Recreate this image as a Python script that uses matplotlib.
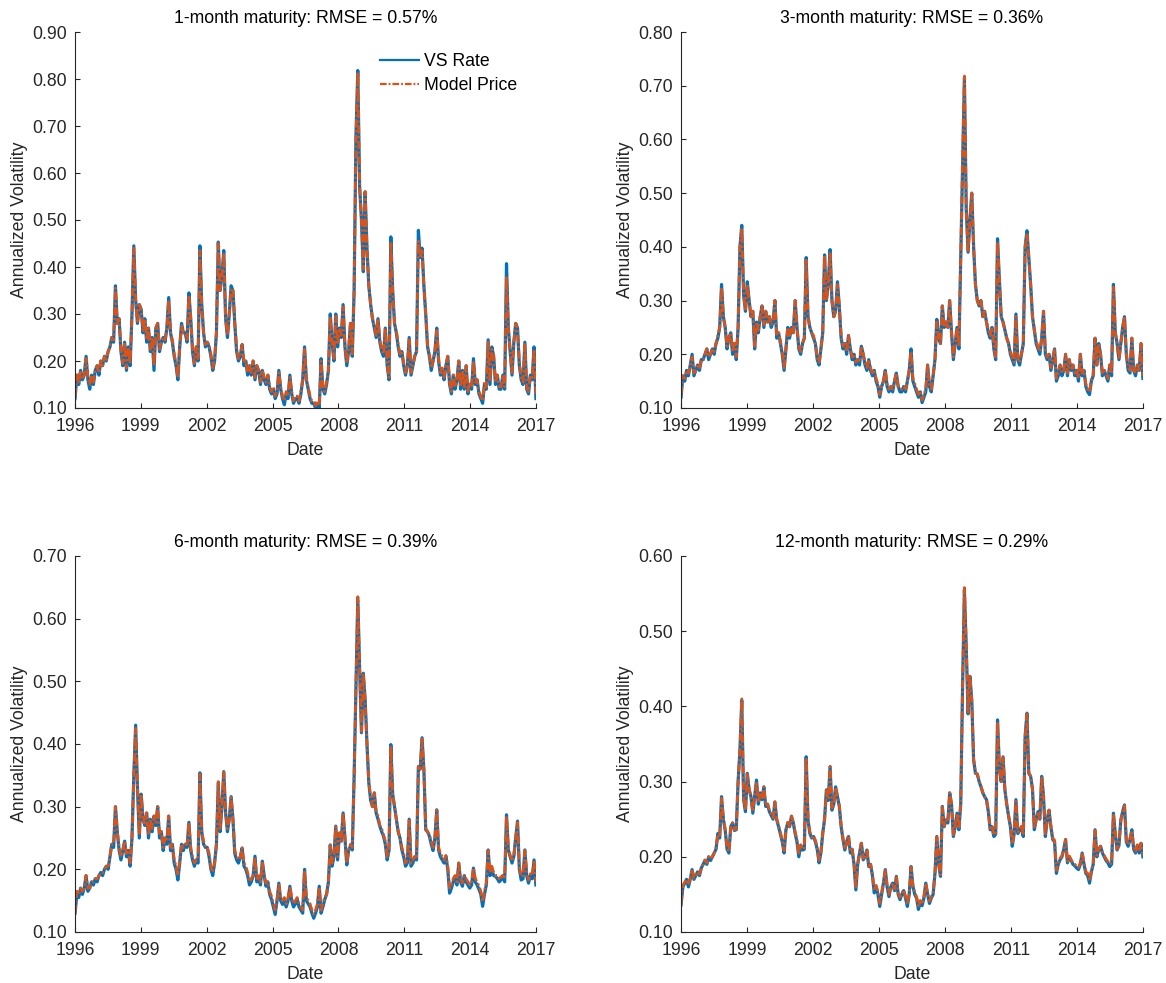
import numpy as np
import pandas as pd
import matplotlib
matplotlib.use("Agg")
import matplotlib.pyplot as plt

plt.rcParams['font.family'] = ['Liberation Sans', 'DejaVu Sans']

# monthly observations, Jan 1996 .. Dec 2016 (one row per year)
dates = pd.date_range('1996-01-02', '2016-12-30', periods=252)

vs_1m = [
    0.12, 0.17, 0.15, 0.18, 0.16, 0.17, 0.21, 0.16, 0.14, 0.17, 0.15, 0.18,
    0.19, 0.17, 0.20, 0.19, 0.21, 0.20, 0.22, 0.23, 0.25, 0.24, 0.36, 0.28,
    0.29, 0.22, 0.19, 0.24, 0.18, 0.23, 0.19, 0.30, 0.445, 0.33, 0.28, 0.32,
    0.31, 0.26, 0.29, 0.24, 0.27, 0.22, 0.25, 0.18, 0.27, 0.28, 0.22, 0.24,
    0.25, 0.24, 0.27, 0.335, 0.26, 0.24, 0.21, 0.19, 0.16, 0.23, 0.28, 0.26,
    0.26, 0.24, 0.345, 0.29, 0.22, 0.19, 0.23, 0.20, 0.445, 0.32, 0.26, 0.23,
    0.24, 0.23, 0.21, 0.18, 0.20, 0.26, 0.453, 0.35, 0.38, 0.435, 0.29, 0.25,
    0.30, 0.36, 0.35, 0.28, 0.22, 0.20, 0.21, 0.235, 0.19, 0.20, 0.17, 0.19,
    0.17, 0.20, 0.16, 0.19, 0.18, 0.15, 0.18, 0.16, 0.15, 0.17, 0.14, 0.13,
    0.14, 0.12, 0.13, 0.18, 0.14, 0.12, 0.107, 0.13, 0.12, 0.17, 0.13, 0.11,
    0.12, 0.12, 0.11, 0.13, 0.16, 0.23, 0.16, 0.14, 0.12, 0.11, 0.11, 0.10,
    0.11, 0.10, 0.205, 0.14, 0.13, 0.15, 0.18, 0.30, 0.24, 0.20, 0.30, 0.23,
    0.27, 0.25, 0.32, 0.23, 0.19, 0.22, 0.28, 0.21, 0.35, 0.68, 0.818, 0.57,
    0.50, 0.39, 0.56, 0.44, 0.36, 0.32, 0.29, 0.27, 0.25, 0.29, 0.24, 0.22,
    0.21, 0.27, 0.19, 0.16, 0.464, 0.35, 0.28, 0.26, 0.23, 0.21, 0.22, 0.19,
    0.17, 0.19, 0.25, 0.17, 0.19, 0.21, 0.22, 0.478, 0.42, 0.44, 0.36, 0.30,
    0.23, 0.21, 0.18, 0.20, 0.22, 0.27, 0.20, 0.17, 0.18, 0.16, 0.19, 0.21,
    0.15, 0.13, 0.17, 0.14, 0.16, 0.20, 0.14, 0.18, 0.14, 0.19, 0.13, 0.15,
    0.14, 0.205, 0.15, 0.16, 0.13, 0.12, 0.11, 0.15, 0.14, 0.245, 0.15, 0.23,
    0.21, 0.15, 0.17, 0.14, 0.14, 0.17, 0.14, 0.407, 0.27, 0.22, 0.17, 0.24,
    0.28, 0.27, 0.19, 0.16, 0.15, 0.24, 0.14, 0.13, 0.17, 0.16, 0.23, 0.12,
]
model_1m = [
    0.125, 0.17, 0.155, 0.18, 0.165, 0.17, 0.205, 0.165, 0.15, 0.17, 0.155, 0.18,
    0.19, 0.175, 0.20, 0.19, 0.21, 0.20, 0.22, 0.23, 0.25, 0.245, 0.355, 0.28,
    0.29, 0.225, 0.195, 0.24, 0.185, 0.23, 0.195, 0.30, 0.44, 0.33, 0.28, 0.32,
    0.31, 0.265, 0.29, 0.245, 0.27, 0.225, 0.25, 0.19, 0.27, 0.28, 0.225, 0.24,
    0.25, 0.245, 0.27, 0.33, 0.26, 0.245, 0.215, 0.195, 0.165, 0.23, 0.275, 0.26,
    0.26, 0.245, 0.34, 0.29, 0.225, 0.195, 0.23, 0.205, 0.435, 0.32, 0.26, 0.235,
    0.24, 0.235, 0.215, 0.185, 0.205, 0.26, 0.45, 0.35, 0.38, 0.43, 0.29, 0.255,
    0.30, 0.355, 0.35, 0.28, 0.225, 0.205, 0.215, 0.235, 0.195, 0.20, 0.175, 0.19,
    0.175, 0.20, 0.165, 0.19, 0.18, 0.155, 0.18, 0.165, 0.155, 0.17, 0.145, 0.135,
    0.145, 0.125, 0.135, 0.175, 0.145, 0.125, 0.115, 0.135, 0.125, 0.165, 0.135, 0.115,
    0.125, 0.125, 0.115, 0.135, 0.16, 0.225, 0.16, 0.145, 0.125, 0.115, 0.115, 0.105,
    0.115, 0.105, 0.20, 0.145, 0.135, 0.155, 0.18, 0.295, 0.24, 0.205, 0.295, 0.235,
    0.27, 0.255, 0.315, 0.235, 0.195, 0.225, 0.28, 0.215, 0.35, 0.67, 0.815, 0.575,
    0.50, 0.395, 0.56, 0.44, 0.36, 0.32, 0.29, 0.275, 0.255, 0.29, 0.245, 0.225,
    0.215, 0.27, 0.195, 0.165, 0.45, 0.35, 0.28, 0.265, 0.235, 0.215, 0.22, 0.195,
    0.175, 0.19, 0.245, 0.175, 0.19, 0.21, 0.22, 0.455, 0.42, 0.435, 0.36, 0.30,
    0.235, 0.215, 0.185, 0.20, 0.22, 0.265, 0.205, 0.175, 0.185, 0.165, 0.19, 0.21,
    0.155, 0.135, 0.17, 0.145, 0.16, 0.20, 0.145, 0.18, 0.145, 0.19, 0.135, 0.155,
    0.145, 0.20, 0.155, 0.16, 0.135, 0.125, 0.115, 0.155, 0.145, 0.24, 0.155, 0.225,
    0.21, 0.155, 0.17, 0.145, 0.145, 0.17, 0.145, 0.38, 0.27, 0.22, 0.175, 0.24,
    0.28, 0.27, 0.195, 0.165, 0.155, 0.235, 0.145, 0.135, 0.17, 0.165, 0.225, 0.13,
]

vs_3m = [
    0.12, 0.16, 0.15, 0.17, 0.16, 0.18, 0.20, 0.16, 0.17, 0.18, 0.17, 0.19,
    0.19, 0.20, 0.21, 0.19, 0.20, 0.21, 0.20, 0.22, 0.23, 0.25, 0.33, 0.27,
    0.25, 0.21, 0.23, 0.24, 0.20, 0.22, 0.19, 0.25, 0.40, 0.44, 0.31, 0.28,
    0.335, 0.30, 0.27, 0.28, 0.21, 0.26, 0.24, 0.27, 0.29, 0.25, 0.28, 0.26,
    0.27, 0.25, 0.26, 0.30, 0.23, 0.24, 0.22, 0.20, 0.17, 0.21, 0.25, 0.23,
    0.25, 0.24, 0.30, 0.25, 0.21, 0.20, 0.22, 0.23, 0.38, 0.27, 0.25, 0.24,
    0.23, 0.22, 0.19, 0.18, 0.21, 0.24, 0.385, 0.30, 0.33, 0.395, 0.30, 0.27,
    0.28, 0.335, 0.29, 0.23, 0.21, 0.22, 0.20, 0.235, 0.21, 0.19, 0.20, 0.18,
    0.19, 0.18, 0.215, 0.20, 0.18, 0.17, 0.19, 0.17, 0.16, 0.17, 0.15, 0.14,
    0.12, 0.14, 0.15, 0.17, 0.14, 0.13, 0.14, 0.13, 0.15, 0.165, 0.14, 0.13,
    0.13, 0.14, 0.13, 0.15, 0.17, 0.21, 0.15, 0.14, 0.13, 0.12, 0.13, 0.11,
    0.12, 0.13, 0.18, 0.14, 0.13, 0.16, 0.19, 0.265, 0.23, 0.22, 0.29, 0.25,
    0.26, 0.25, 0.30, 0.24, 0.19, 0.22, 0.25, 0.21, 0.38, 0.56, 0.715, 0.47,
    0.39, 0.45, 0.50, 0.40, 0.33, 0.30, 0.29, 0.30, 0.27, 0.28, 0.26, 0.24,
    0.23, 0.25, 0.21, 0.19, 0.415, 0.34, 0.27, 0.26, 0.245, 0.23, 0.22, 0.20,
    0.19, 0.18, 0.275, 0.19, 0.18, 0.20, 0.22, 0.40, 0.43, 0.38, 0.33, 0.27,
    0.245, 0.22, 0.21, 0.20, 0.23, 0.28, 0.20, 0.19, 0.20, 0.17, 0.19, 0.21,
    0.15, 0.16, 0.18, 0.16, 0.17, 0.20, 0.16, 0.19, 0.17, 0.18, 0.16, 0.17,
    0.15, 0.20, 0.16, 0.17, 0.14, 0.13, 0.125, 0.15, 0.16, 0.23, 0.18, 0.22,
    0.20, 0.16, 0.17, 0.16, 0.15, 0.18, 0.16, 0.33, 0.24, 0.22, 0.19, 0.22,
    0.25, 0.27, 0.20, 0.17, 0.165, 0.23, 0.17, 0.16, 0.18, 0.17, 0.22, 0.155,
]
model_3m = [
    0.125, 0.16, 0.155, 0.17, 0.165, 0.18, 0.195, 0.165, 0.17, 0.18, 0.175, 0.19,
    0.19, 0.20, 0.21, 0.195, 0.20, 0.21, 0.205, 0.22, 0.235, 0.25, 0.325, 0.27,
    0.25, 0.215, 0.23, 0.24, 0.205, 0.22, 0.195, 0.25, 0.40, 0.435, 0.31, 0.28,
    0.33, 0.30, 0.27, 0.28, 0.215, 0.26, 0.245, 0.27, 0.29, 0.255, 0.28, 0.26,
    0.27, 0.255, 0.26, 0.30, 0.235, 0.24, 0.225, 0.205, 0.175, 0.21, 0.25, 0.235,
    0.25, 0.24, 0.30, 0.25, 0.215, 0.205, 0.22, 0.23, 0.375, 0.27, 0.25, 0.24,
    0.235, 0.22, 0.195, 0.185, 0.21, 0.24, 0.385, 0.30, 0.33, 0.39, 0.30, 0.27,
    0.28, 0.33, 0.29, 0.235, 0.215, 0.22, 0.205, 0.235, 0.21, 0.195, 0.20, 0.185,
    0.19, 0.185, 0.215, 0.20, 0.185, 0.175, 0.19, 0.175, 0.165, 0.17, 0.155, 0.145,
    0.125, 0.14, 0.15, 0.17, 0.145, 0.135, 0.14, 0.135, 0.15, 0.165, 0.14, 0.135,
    0.135, 0.14, 0.135, 0.15, 0.17, 0.205, 0.155, 0.145, 0.135, 0.125, 0.13, 0.115,
    0.125, 0.135, 0.18, 0.145, 0.135, 0.16, 0.19, 0.26, 0.23, 0.22, 0.29, 0.25,
    0.26, 0.25, 0.30, 0.24, 0.195, 0.22, 0.25, 0.215, 0.38, 0.56, 0.718, 0.47,
    0.39, 0.45, 0.50, 0.40, 0.33, 0.30, 0.29, 0.30, 0.27, 0.28, 0.26, 0.245,
    0.235, 0.25, 0.215, 0.195, 0.41, 0.34, 0.27, 0.26, 0.245, 0.23, 0.22, 0.205,
    0.195, 0.185, 0.27, 0.195, 0.185, 0.20, 0.22, 0.40, 0.425, 0.38, 0.33, 0.27,
    0.245, 0.225, 0.215, 0.205, 0.23, 0.28, 0.205, 0.195, 0.20, 0.175, 0.19, 0.21,
    0.155, 0.165, 0.18, 0.165, 0.17, 0.20, 0.165, 0.19, 0.17, 0.18, 0.165, 0.17,
    0.155, 0.20, 0.165, 0.17, 0.145, 0.135, 0.13, 0.155, 0.16, 0.23, 0.18, 0.22,
    0.20, 0.165, 0.17, 0.165, 0.155, 0.18, 0.165, 0.325, 0.24, 0.22, 0.19, 0.22,
    0.25, 0.27, 0.20, 0.175, 0.17, 0.23, 0.17, 0.165, 0.18, 0.17, 0.22, 0.16,
]

vs_6m = [
    0.13, 0.16, 0.155, 0.17, 0.16, 0.17, 0.19, 0.165, 0.17, 0.18, 0.175, 0.185,
    0.18, 0.19, 0.195, 0.19, 0.20, 0.205, 0.20, 0.22, 0.24, 0.235, 0.30, 0.26,
    0.23, 0.215, 0.23, 0.245, 0.22, 0.23, 0.205, 0.25, 0.35, 0.43, 0.33, 0.25,
    0.32, 0.28, 0.27, 0.29, 0.25, 0.28, 0.26, 0.285, 0.27, 0.30, 0.25, 0.26,
    0.23, 0.25, 0.24, 0.285, 0.23, 0.24, 0.21, 0.20, 0.183, 0.21, 0.24, 0.23,
    0.24, 0.235, 0.275, 0.23, 0.215, 0.205, 0.215, 0.21, 0.354, 0.26, 0.24, 0.235,
    0.235, 0.22, 0.20, 0.19, 0.21, 0.24, 0.338, 0.26, 0.30, 0.356, 0.29, 0.26,
    0.28, 0.316, 0.28, 0.225, 0.215, 0.21, 0.22, 0.234, 0.205, 0.20, 0.19, 0.175,
    0.18, 0.19, 0.221, 0.18, 0.185, 0.175, 0.213, 0.19, 0.173, 0.18, 0.16, 0.152,
    0.14, 0.128, 0.15, 0.178, 0.15, 0.144, 0.15, 0.14, 0.15, 0.173, 0.15, 0.14,
    0.145, 0.152, 0.14, 0.135, 0.13, 0.20, 0.15, 0.145, 0.14, 0.13, 0.122, 0.13,
    0.14, 0.173, 0.13, 0.14, 0.152, 0.16, 0.18, 0.239, 0.205, 0.22, 0.269, 0.215,
    0.258, 0.245, 0.29, 0.25, 0.207, 0.23, 0.237, 0.231, 0.348, 0.49, 0.633, 0.52,
    0.418, 0.513, 0.471, 0.40, 0.338, 0.31, 0.30, 0.322, 0.29, 0.28, 0.269, 0.26,
    0.253, 0.24, 0.215, 0.23, 0.399, 0.32, 0.30, 0.28, 0.26, 0.25, 0.231, 0.22,
    0.205, 0.21, 0.28, 0.205, 0.21, 0.22, 0.215, 0.364, 0.36, 0.41, 0.359, 0.263,
    0.26, 0.253, 0.24, 0.23, 0.25, 0.295, 0.231, 0.22, 0.215, 0.21, 0.221, 0.20,
    0.162, 0.17, 0.18, 0.189, 0.175, 0.21, 0.18, 0.173, 0.19, 0.18, 0.175, 0.17,
    0.175, 0.202, 0.18, 0.175, 0.168, 0.16, 0.141, 0.16, 0.175, 0.231, 0.19, 0.20,
    0.19, 0.189, 0.185, 0.18, 0.183, 0.19, 0.18, 0.287, 0.231, 0.22, 0.21, 0.221,
    0.25, 0.277, 0.20, 0.183, 0.185, 0.231, 0.19, 0.178, 0.19, 0.185, 0.215, 0.175,
]
model_6m = [
    0.13, 0.165, 0.16, 0.17, 0.165, 0.17, 0.19, 0.17, 0.17, 0.18, 0.18, 0.185,
    0.185, 0.19, 0.195, 0.195, 0.20, 0.205, 0.205, 0.22, 0.24, 0.24, 0.30, 0.26,
    0.235, 0.22, 0.23, 0.245, 0.225, 0.23, 0.21, 0.25, 0.35, 0.425, 0.33, 0.255,
    0.32, 0.285, 0.27, 0.29, 0.255, 0.28, 0.265, 0.285, 0.275, 0.30, 0.255, 0.26,
    0.235, 0.25, 0.245, 0.285, 0.235, 0.24, 0.215, 0.205, 0.19, 0.215, 0.24, 0.235,
    0.24, 0.24, 0.275, 0.235, 0.22, 0.21, 0.215, 0.215, 0.352, 0.26, 0.245, 0.235,
    0.235, 0.225, 0.205, 0.195, 0.21, 0.24, 0.34, 0.265, 0.30, 0.355, 0.29, 0.265,
    0.28, 0.315, 0.28, 0.23, 0.22, 0.215, 0.22, 0.234, 0.21, 0.205, 0.195, 0.18,
    0.185, 0.19, 0.22, 0.185, 0.19, 0.18, 0.212, 0.19, 0.178, 0.18, 0.165, 0.157,
    0.145, 0.135, 0.15, 0.175, 0.155, 0.15, 0.155, 0.145, 0.155, 0.172, 0.155, 0.145,
    0.15, 0.155, 0.145, 0.14, 0.135, 0.198, 0.155, 0.15, 0.145, 0.135, 0.128, 0.135,
    0.145, 0.172, 0.135, 0.145, 0.155, 0.16, 0.18, 0.238, 0.21, 0.22, 0.268, 0.22,
    0.258, 0.245, 0.29, 0.25, 0.21, 0.23, 0.24, 0.235, 0.348, 0.49, 0.635, 0.52,
    0.42, 0.512, 0.47, 0.40, 0.34, 0.315, 0.30, 0.322, 0.29, 0.285, 0.27, 0.265,
    0.255, 0.245, 0.22, 0.23, 0.397, 0.32, 0.30, 0.28, 0.26, 0.25, 0.235, 0.225,
    0.21, 0.215, 0.278, 0.21, 0.215, 0.22, 0.22, 0.364, 0.36, 0.408, 0.358, 0.265,
    0.26, 0.255, 0.245, 0.235, 0.25, 0.294, 0.235, 0.225, 0.22, 0.215, 0.222, 0.205,
    0.17, 0.175, 0.185, 0.19, 0.18, 0.21, 0.185, 0.178, 0.19, 0.185, 0.18, 0.175,
    0.18, 0.202, 0.185, 0.18, 0.173, 0.165, 0.148, 0.165, 0.178, 0.23, 0.195, 0.205,
    0.195, 0.19, 0.19, 0.185, 0.188, 0.19, 0.185, 0.285, 0.233, 0.222, 0.213, 0.222,
    0.25, 0.275, 0.205, 0.188, 0.19, 0.23, 0.195, 0.183, 0.193, 0.19, 0.215, 0.18,
]

vs_12m = [
    0.136, 0.16, 0.165, 0.17, 0.16, 0.17, 0.183, 0.17, 0.175, 0.18, 0.175, 0.185,
    0.19, 0.195, 0.19, 0.20, 0.195, 0.20, 0.205, 0.21, 0.231, 0.225, 0.28, 0.25,
    0.235, 0.21, 0.205, 0.24, 0.245, 0.235, 0.236, 0.30, 0.342, 0.408, 0.276, 0.26,
    0.311, 0.289, 0.28, 0.258, 0.28, 0.302, 0.27, 0.285, 0.276, 0.293, 0.267, 0.27,
    0.26, 0.255, 0.25, 0.273, 0.249, 0.24, 0.23, 0.22, 0.205, 0.236, 0.245, 0.24,
    0.254, 0.245, 0.231, 0.22, 0.20, 0.215, 0.209, 0.21, 0.333, 0.249, 0.231, 0.225,
    0.227, 0.22, 0.21, 0.192, 0.205, 0.231, 0.25, 0.289, 0.275, 0.32, 0.262, 0.27,
    0.293, 0.28, 0.267, 0.24, 0.223, 0.209, 0.22, 0.227, 0.205, 0.21, 0.19, 0.156,
    0.19, 0.205, 0.218, 0.196, 0.20, 0.209, 0.187, 0.19, 0.175, 0.152, 0.16, 0.15,
    0.134, 0.15, 0.165, 0.183, 0.16, 0.147, 0.16, 0.165, 0.155, 0.174, 0.15, 0.143,
    0.15, 0.155, 0.145, 0.134, 0.15, 0.187, 0.161, 0.15, 0.145, 0.13, 0.14, 0.135,
    0.145, 0.165, 0.15, 0.138, 0.145, 0.15, 0.178, 0.227, 0.19, 0.174, 0.267, 0.24,
    0.249, 0.245, 0.285, 0.27, 0.227, 0.24, 0.258, 0.236, 0.27, 0.426, 0.555, 0.479,
    0.39, 0.44, 0.408, 0.329, 0.311, 0.31, 0.30, 0.293, 0.285, 0.28, 0.276, 0.26,
    0.236, 0.24, 0.227, 0.23, 0.382, 0.32, 0.30, 0.333, 0.289, 0.27, 0.254, 0.24,
    0.214, 0.23, 0.276, 0.231, 0.235, 0.24, 0.227, 0.36, 0.391, 0.311, 0.307, 0.29,
    0.236, 0.249, 0.26, 0.25, 0.307, 0.28, 0.227, 0.25, 0.262, 0.24, 0.223, 0.22,
    0.178, 0.19, 0.196, 0.20, 0.21, 0.223, 0.192, 0.20, 0.195, 0.19, 0.188, 0.185,
    0.183, 0.19, 0.205, 0.19, 0.178, 0.175, 0.165, 0.18, 0.19, 0.236, 0.20, 0.21,
    0.214, 0.205, 0.20, 0.195, 0.192, 0.187, 0.19, 0.258, 0.23, 0.209, 0.215, 0.249,
    0.26, 0.269, 0.22, 0.214, 0.223, 0.236, 0.21, 0.205, 0.215, 0.205, 0.218, 0.20,
]
model_12m = [
    0.138, 0.162, 0.166, 0.17, 0.163, 0.172, 0.183, 0.172, 0.176, 0.18, 0.177, 0.185,
    0.19, 0.196, 0.192, 0.20, 0.197, 0.20, 0.205, 0.212, 0.23, 0.226, 0.278, 0.25,
    0.236, 0.212, 0.207, 0.24, 0.245, 0.236, 0.237, 0.30, 0.342, 0.41, 0.278, 0.262,
    0.31, 0.29, 0.28, 0.26, 0.28, 0.30, 0.272, 0.285, 0.277, 0.293, 0.268, 0.27,
    0.262, 0.256, 0.252, 0.273, 0.25, 0.242, 0.232, 0.222, 0.208, 0.236, 0.246, 0.24,
    0.254, 0.246, 0.233, 0.222, 0.203, 0.216, 0.21, 0.212, 0.332, 0.25, 0.233, 0.226,
    0.228, 0.222, 0.212, 0.195, 0.206, 0.232, 0.25, 0.288, 0.276, 0.32, 0.263, 0.27,
    0.292, 0.28, 0.268, 0.242, 0.225, 0.21, 0.22, 0.228, 0.207, 0.21, 0.192, 0.16,
    0.19, 0.205, 0.218, 0.198, 0.20, 0.21, 0.188, 0.19, 0.177, 0.156, 0.162, 0.153,
    0.138, 0.152, 0.166, 0.182, 0.162, 0.15, 0.161, 0.165, 0.157, 0.173, 0.152, 0.146,
    0.152, 0.156, 0.147, 0.137, 0.151, 0.186, 0.162, 0.152, 0.147, 0.133, 0.142, 0.137,
    0.147, 0.165, 0.151, 0.141, 0.147, 0.152, 0.178, 0.226, 0.192, 0.176, 0.266, 0.241,
    0.249, 0.246, 0.285, 0.27, 0.229, 0.241, 0.258, 0.237, 0.272, 0.426, 0.558, 0.48,
    0.392, 0.44, 0.408, 0.33, 0.312, 0.31, 0.30, 0.294, 0.286, 0.28, 0.276, 0.261,
    0.238, 0.241, 0.229, 0.231, 0.38, 0.32, 0.30, 0.332, 0.29, 0.27, 0.255, 0.242,
    0.217, 0.231, 0.274, 0.233, 0.236, 0.24, 0.229, 0.36, 0.39, 0.312, 0.307, 0.29,
    0.238, 0.25, 0.26, 0.251, 0.305, 0.28, 0.229, 0.25, 0.262, 0.241, 0.225, 0.222,
    0.182, 0.192, 0.198, 0.201, 0.21, 0.223, 0.194, 0.201, 0.196, 0.192, 0.19, 0.188,
    0.186, 0.192, 0.205, 0.192, 0.18, 0.178, 0.168, 0.182, 0.19, 0.235, 0.202, 0.21,
    0.214, 0.206, 0.202, 0.197, 0.194, 0.19, 0.192, 0.257, 0.23, 0.21, 0.216, 0.248,
    0.26, 0.268, 0.222, 0.216, 0.224, 0.235, 0.212, 0.207, 0.216, 0.207, 0.218, 0.202,
]

titles = [
    '1-month maturity: RMSE = 0.57%',
    '3-month maturity: RMSE = 0.36%',
    '6-month maturity: RMSE = 0.39%',
    '12-month maturity: RMSE = 0.29%',
]
vs_series = [vs_1m, vs_3m, vs_6m, vs_12m]
model_series = [model_1m, model_3m, model_6m, model_12m]
y_tops = [0.90, 0.80, 0.70, 0.60]
year_ticks = list(range(1996, 2018, 3))

W, H = 1166, 983
# axes boxes in pixels: left, top, right, bottom
boxes = [(75, 32, 536, 408), (681, 32, 1143, 408),
         (75, 556, 536, 932), (681, 556, 1143, 932)]

BLUE = '#0072BD'
ORANGE = '#D95319'
AXC = '#262626'
FS = 12.7

fig = plt.figure(figsize=(W / 100, H / 100), dpi=100)

for i in range(4):
    l, t, r, b = boxes[i]
    ax = fig.add_axes([l / W, 1 - b / H, (r - l) / W, (b - t) / H])
    ax.plot(dates, vs_series[i], color=BLUE, lw=2.3, label='VS Rate')
    ax.plot(dates, model_series[i], color=ORANGE, lw=2.0,
            ls=(0, (3.0, 0.9, 0.8, 0.9)), label='Model Price')

    ax.set_xlim(pd.Timestamp('1996-01-01'), pd.Timestamp('2017-01-01'))
    ax.set_ylim(0.10, y_tops[i])
    ax.set_yticks(np.round(np.arange(0.10, y_tops[i] + 0.001, 0.10), 2))
    ax.yaxis.set_major_formatter('{x:.2f}')
    ax.set_xticks([pd.Timestamp(f'{y}-01-01') for y in year_ticks])
    ax.set_xticklabels([str(y) for y in year_ticks])

    for side in ('top', 'right'):
        ax.spines[side].set_visible(False)
    for side in ('left', 'bottom'):
        ax.spines[side].set_color(AXC)
        ax.spines[side].set_linewidth(0.8)
    ax.tick_params(direction='in', length=3.6, width=0.8, colors=AXC,
                   labelsize=FS)
    ax.tick_params(axis='x', pad=7.5)
    ax.tick_params(axis='y', pad=5.5)

    ax.set_title(titles[i], fontsize=FS, color='black', pad=6.5)
    ax.set_xlabel('Date', fontsize=FS, color=AXC, labelpad=5)
    ax.set_ylabel('Annualized Volatility', fontsize=FS, color=AXC,
                  labelpad=3)

    if i == 0:
        leg = ax.legend(loc='upper left', bbox_to_anchor=(0.662, 0.944),
                        frameon=False, fontsize=FS, borderpad=0,
                        borderaxespad=0, handlelength=2.2,
                        handletextpad=0.3, labelspacing=0.42)
        for line in leg.get_lines():
            line.set_linewidth(1.6)

fig.savefig('out.png', dpi=100)
